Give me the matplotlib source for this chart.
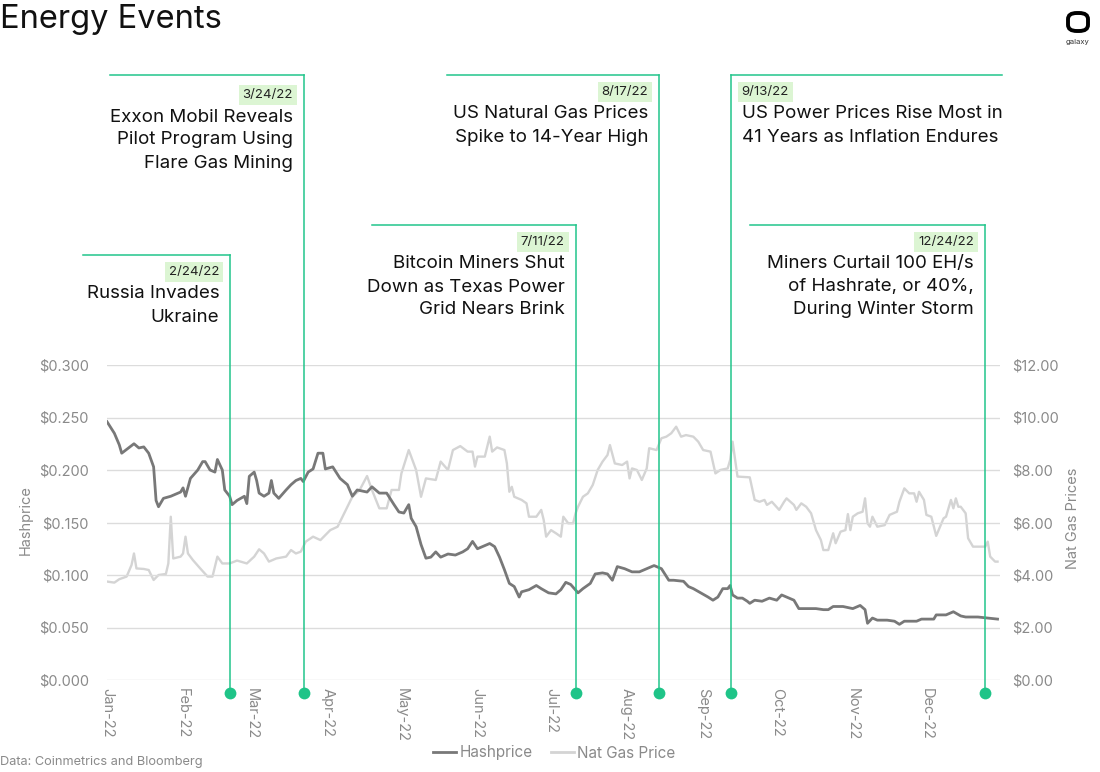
import pandas as pd
import matplotlib
matplotlib.use("Agg")
import matplotlib.pyplot as plt
import matplotlib.dates as mdates
from matplotlib.lines import Line2D
from matplotlib.patches import FancyBboxPatch

plt.rcParams['font.family'] = ['Inter', 'DejaVu Sans']

start = pd.Timestamp('2022-01-01')

# days since Jan 1 2022, hashprice in $/TH/day
hash_days = [0, 3, 5, 6, 11, 13, 15, 17, 19, 20, 21, 23, 26, 30, 31, 32, 34, 37, 39, 40,
             42, 44, 45, 47, 48, 50, 51, 53, 56, 57, 58, 60, 61, 62, 64, 66, 67, 68, 70, 73,
             75, 77, 79, 80, 82, 84, 86, 88, 89, 92, 95, 98, 100, 102, 106, 108, 111, 114, 117, 119,
             121, 123, 124, 126, 128, 130, 132, 134, 136, 139, 142, 145, 147, 149, 151, 153, 156, 158, 160, 162,
             164, 166, 168, 169, 172, 175, 177, 180, 183, 185, 187, 189, 192, 194, 197, 199, 202, 204, 206, 208,
             211, 214, 217, 219, 223, 226, 229, 231, 235, 237, 239, 242, 245, 247, 249, 251, 253, 254, 255, 257,
             259, 261, 262, 264, 267, 270, 273, 275, 277, 280, 282, 285, 289, 292, 294, 296, 300, 304, 307, 309,
             310, 312, 314, 318, 321, 323, 325, 330, 332, 337, 338, 342, 345, 348, 350, 355, 359, 363]
hash_vals = [0.246, 0.235, 0.224, 0.216, 0.225, 0.221, 0.222, 0.216, 0.203, 0.171, 0.165, 0.173, 0.175, 0.179, 0.183, 0.175, 0.192, 0.200, 0.208, 0.208,
             0.200, 0.198, 0.210, 0.200, 0.181, 0.175, 0.167, 0.171, 0.175, 0.168, 0.194, 0.198, 0.190, 0.178, 0.175, 0.178, 0.190, 0.178, 0.173, 0.181,
             0.186, 0.190, 0.192, 0.189, 0.198, 0.201, 0.216, 0.216, 0.201, 0.203, 0.192, 0.186, 0.175, 0.181, 0.179, 0.184, 0.178, 0.178, 0.167, 0.160,
             0.159, 0.167, 0.154, 0.146, 0.129, 0.116, 0.117, 0.122, 0.117, 0.120, 0.119, 0.122, 0.125, 0.132, 0.125, 0.127, 0.130, 0.127, 0.117, 0.105,
             0.092, 0.089, 0.079, 0.084, 0.086, 0.090, 0.087, 0.083, 0.082, 0.086, 0.093, 0.091, 0.083, 0.087, 0.092, 0.101, 0.102, 0.101, 0.095, 0.108,
             0.106, 0.103, 0.103, 0.105, 0.109, 0.106, 0.095, 0.095, 0.094, 0.089, 0.087, 0.083, 0.079, 0.076, 0.079, 0.087, 0.087, 0.090, 0.081, 0.078,
             0.078, 0.075, 0.073, 0.076, 0.075, 0.078, 0.076, 0.081, 0.079, 0.076, 0.068, 0.068, 0.068, 0.067, 0.067, 0.070, 0.070, 0.068, 0.071, 0.067,
             0.054, 0.059, 0.057, 0.057, 0.056, 0.053, 0.056, 0.056, 0.058, 0.058, 0.062, 0.062, 0.065, 0.061, 0.060, 0.060, 0.059, 0.058]

# days since Jan 1 2022, nat gas $/MMBtu
gas_days = [0, 3, 5, 8, 10, 11, 12, 15, 17, 19, 21, 24, 25, 26, 27, 30, 31, 32, 33, 35,
            38, 41, 43, 45, 47, 50, 53, 57, 60, 62, 64, 66, 69, 73, 75, 77, 79, 81, 84, 87,
            91, 94, 96, 100, 103, 106, 108, 111, 114, 116, 119, 120, 123, 126, 128, 130, 134, 136, 139, 141,
            144, 147, 149, 150, 151, 154, 156, 157, 159, 162, 163, 164, 165, 166, 169, 171, 172, 175, 177, 178,
            179, 181, 183, 185, 186, 188, 190, 191, 192, 194, 196, 198, 200, 202, 204, 205, 207, 210, 212, 213,
            214, 216, 218, 220, 221, 224, 226, 228, 230, 232, 234, 236, 239, 241, 243, 246, 248, 250, 253, 254,
            255, 257, 262, 264, 266, 268, 269, 271, 274, 276, 277, 280, 281, 283, 285, 287, 289, 291, 292, 294,
            296, 297, 299, 301, 302, 303, 304, 306, 308, 309, 310, 311, 312, 314, 317, 319, 322, 323, 325, 327,
            329, 330, 331, 333, 334, 336, 338, 339, 341, 342, 344, 345, 346, 347, 348, 350, 351, 353, 355, 358,
            359, 360, 362, 363]
gas_vals = [3.75, 3.71, 3.84, 3.94, 4.38, 4.82, 4.25, 4.23, 4.19, 3.81, 4.00, 4.04, 4.44, 6.22, 4.63, 4.70, 4.82, 5.46, 4.82, 4.57,
            4.25, 3.94, 3.94, 4.70, 4.44, 4.44, 4.55, 4.44, 4.70, 4.98, 4.82, 4.51, 4.63, 4.70, 4.95, 4.82, 4.89, 5.27, 5.46, 5.33,
            5.71, 5.84, 6.22, 6.98, 7.24, 7.77, 7.24, 6.54, 6.54, 7.24, 7.24, 7.87, 8.76, 8.00, 6.98, 7.68, 7.62, 8.32, 8.00, 8.76,
            8.91, 8.70, 8.70, 8.13, 8.51, 8.51, 9.27, 8.70, 8.86, 8.76, 8.25, 7.17, 7.36, 6.98, 6.86, 6.73, 6.22, 6.22, 6.48, 6.10,
            5.46, 5.71, 5.59, 5.46, 6.22, 5.97, 5.97, 6.35, 6.60, 6.98, 7.11, 7.43, 8.00, 8.32, 8.57, 8.95, 8.25, 8.19, 8.32, 7.68,
            8.06, 8.00, 7.62, 8.06, 8.83, 8.76, 9.21, 9.27, 9.40, 9.65, 9.27, 9.33, 9.27, 9.08, 8.76, 8.70, 7.87, 8.00, 8.06, 8.38,
            9.08, 7.75, 7.72, 6.86, 6.79, 6.86, 6.67, 6.79, 6.48, 6.79, 6.92, 6.67, 6.48, 6.73, 6.60, 6.35, 5.71, 5.33, 4.95, 4.95,
            5.59, 5.21, 5.65, 5.71, 6.32, 5.71, 6.22, 6.35, 6.41, 6.92, 5.97, 5.84, 6.22, 5.84, 5.90, 6.29, 6.41, 6.79, 7.30, 7.11,
            7.11, 6.79, 7.17, 6.86, 6.29, 6.22, 5.49, 5.71, 6.16, 6.22, 6.86, 6.54, 6.92, 6.60, 6.60, 6.35, 5.40, 5.08, 5.08, 5.08,
            5.27, 4.70, 4.51, 4.51]

event_dates = ['2022-02-24', '2022-03-24', '2022-07-11', '2022-08-17', '2022-09-13', '2022-12-24']
event_tags = ['2/24/22', '3/24/22', '7/11/22', '8/17/22', '9/13/22', '12/24/22']
event_titles = ['Russia Invades\nUkraine',
                'Exxon Mobil Reveals\nPilot Program Using\nFlare Gas Mining',
                'Bitcoin Miners Shut\nDown as Texas Power\nGrid Nears Brink',
                'US Natural Gas Prices\nSpike to 14-Year High',
                'US Power Prices Rise Most in\n41 Years as Inflation Endures',
                'Miners Curtail 100 EH/s\nof Hashrate, or 40%,\nDuring Winter Storm']

# annotation layout (pixels from top, box width, text side, small x nudge, text drop)
event_top = [255, 75, 225, 75, 75, 225]
event_width = [147, 194, 204, 212, 271, 235]
event_side = ['left', 'left', 'left', 'left', 'right', 'left']
event_nudge = [-9, -4, 0, -7, -2, 2]
event_drop = [0, 3, 0, 0, 0, 0]

W, H = 1100, 772
GREEN = '#22c58b'
GREY = '#8a8a8a'

fig = plt.figure(figsize=(W / 100, H / 100), dpi=100)
ax = fig.add_axes([107 / W, 1 - 680 / H, 893 / W, 315 / H])
ax2 = ax.twinx()

hx = start + pd.to_timedelta(hash_days, unit='D')
gx = start + pd.to_timedelta(gas_days, unit='D')
ax2.plot(gx, gas_vals, color='#d4d4d4', lw=1.7, zorder=2)
ax.plot(hx, hash_vals, color='#787878', lw=2.0, zorder=3)
ax.set_zorder(ax2.get_zorder() + 1)
ax.patch.set_visible(False)

ax.set_xlim(pd.Timestamp('2022-01-01'), pd.Timestamp('2022-12-31'))
ax.set_ylim(0, 0.3)
ax2.set_ylim(0, 12)
ax.set_yticks([0, 0.05, 0.1, 0.15, 0.2, 0.25, 0.3])
ax2.set_yticks([0, 2, 4, 6, 8, 10, 12])
ax.yaxis.set_major_formatter(plt.FuncFormatter(lambda v, p: f'${v:.3f}'))
ax2.yaxis.set_major_formatter(plt.FuncFormatter(lambda v, p: f'${v:.2f}'))
ax.xaxis.set_major_locator(mdates.MonthLocator())
ax.xaxis.set_major_formatter(mdates.DateFormatter('%b-%y'))
ax.grid(axis='y', color='#dcdcdc', lw=1)
for a in (ax, ax2):
    for s in a.spines.values():
        s.set_visible(False)
ax.tick_params(axis='y', length=0, pad=13, labelsize=10.5, labelcolor=GREY)
ax2.tick_params(axis='y', length=0, pad=9, labelsize=10.5, labelcolor=GREY)
ax.tick_params(axis='x', length=0, pad=6, labelsize=10.5, labelcolor=GREY, labelrotation=-90)

fig.text(26 / W, 1 - 520 / H, 'Hashprice', rotation=90, ha='center', va='center',
         fontsize=10.5, color=GREY)
fig.text(1073 / W, 1 - 518 / H, 'Nat Gas Prices', rotation=90, ha='center', va='center',
         fontsize=10.5, color=GREY)

# event annotations
fig.canvas.draw()
for d, tag, title, top, wid, side, nud, drop in zip(event_dates, event_tags, event_titles,
                                                    event_top, event_width, event_side,
                                                    event_nudge, event_drop):
    xd = mdates.date2num(pd.Timestamp(d))
    xp = ax.transData.transform((xd, 0))[0] + nud
    x_end = xp - wid if side == 'left' else xp + wid
    fig.add_artist(Line2D([xp / W, xp / W], [1 - top / H, 1 - 693 / H],
                          color=GREEN, lw=1.1, transform=fig.transFigure, zorder=5))
    fig.add_artist(Line2D([x_end / W, xp / W], [1 - top / H, 1 - top / H],
                          color=GREEN, lw=1.1, transform=fig.transFigure, zorder=5))
    fig.add_artist(Line2D([xp / W], [1 - 693 / H], marker='o', ms=8.5, color='#1fc488',
                          mec='none', transform=fig.transFigure, zorder=6))
    tx = xp - 11 if side == 'left' else xp + 11
    ha = 'right' if side == 'left' else 'left'
    fig.text(tx / W, 1 - (top + 17 + drop) / H, tag, ha=ha, va='center', fontsize=9.5,
             color='#222222', bbox=dict(boxstyle='square,pad=0.3', fc='#dcf5d3', ec='none'))
    for i, line in enumerate(title.split('\n')):
        fig.text(tx / W, 1 - (top + 39 + drop + 23 * i) / H, line, ha=ha, va='center',
                 fontsize=13.5, color='#111111')

# title, source, legend
fig.text(0, 1 - 28 / H, 'Energy Events', fontsize=23.5, color='#111111', va='baseline')
fig.text(0, 1 - 765 / H, 'Data: Coinmetrics and Bloomberg', fontsize=9.2, color=GREY,
         va='baseline')
handles = [Line2D([], [], color='#787878', lw=2), Line2D([], [], color='#d4d4d4', lw=2)]
fig.legend(handles, ['Hashprice', 'Nat Gas Price'], loc='center', ncol=2, frameon=False,
           bbox_to_anchor=(554 / W, 1 - 753 / H), fontsize=11, labelcolor=GREY,
           handlelength=1.5, handletextpad=0.2, columnspacing=1.2)

# galaxy logo
fig.add_artist(FancyBboxPatch((1068 / W, 1 - 31 / H), 20 / W, 18 / H,
                              boxstyle='round,pad=0,rounding_size=0.008',
                              fc='white', ec='black', lw=2.8, transform=fig.transFigure))
fig.text(1078 / W, 1 - 42 / H, 'galaxy', ha='center', va='center', fontsize=5.5, color='#333333')

fig.savefig('out.png', dpi=100)
